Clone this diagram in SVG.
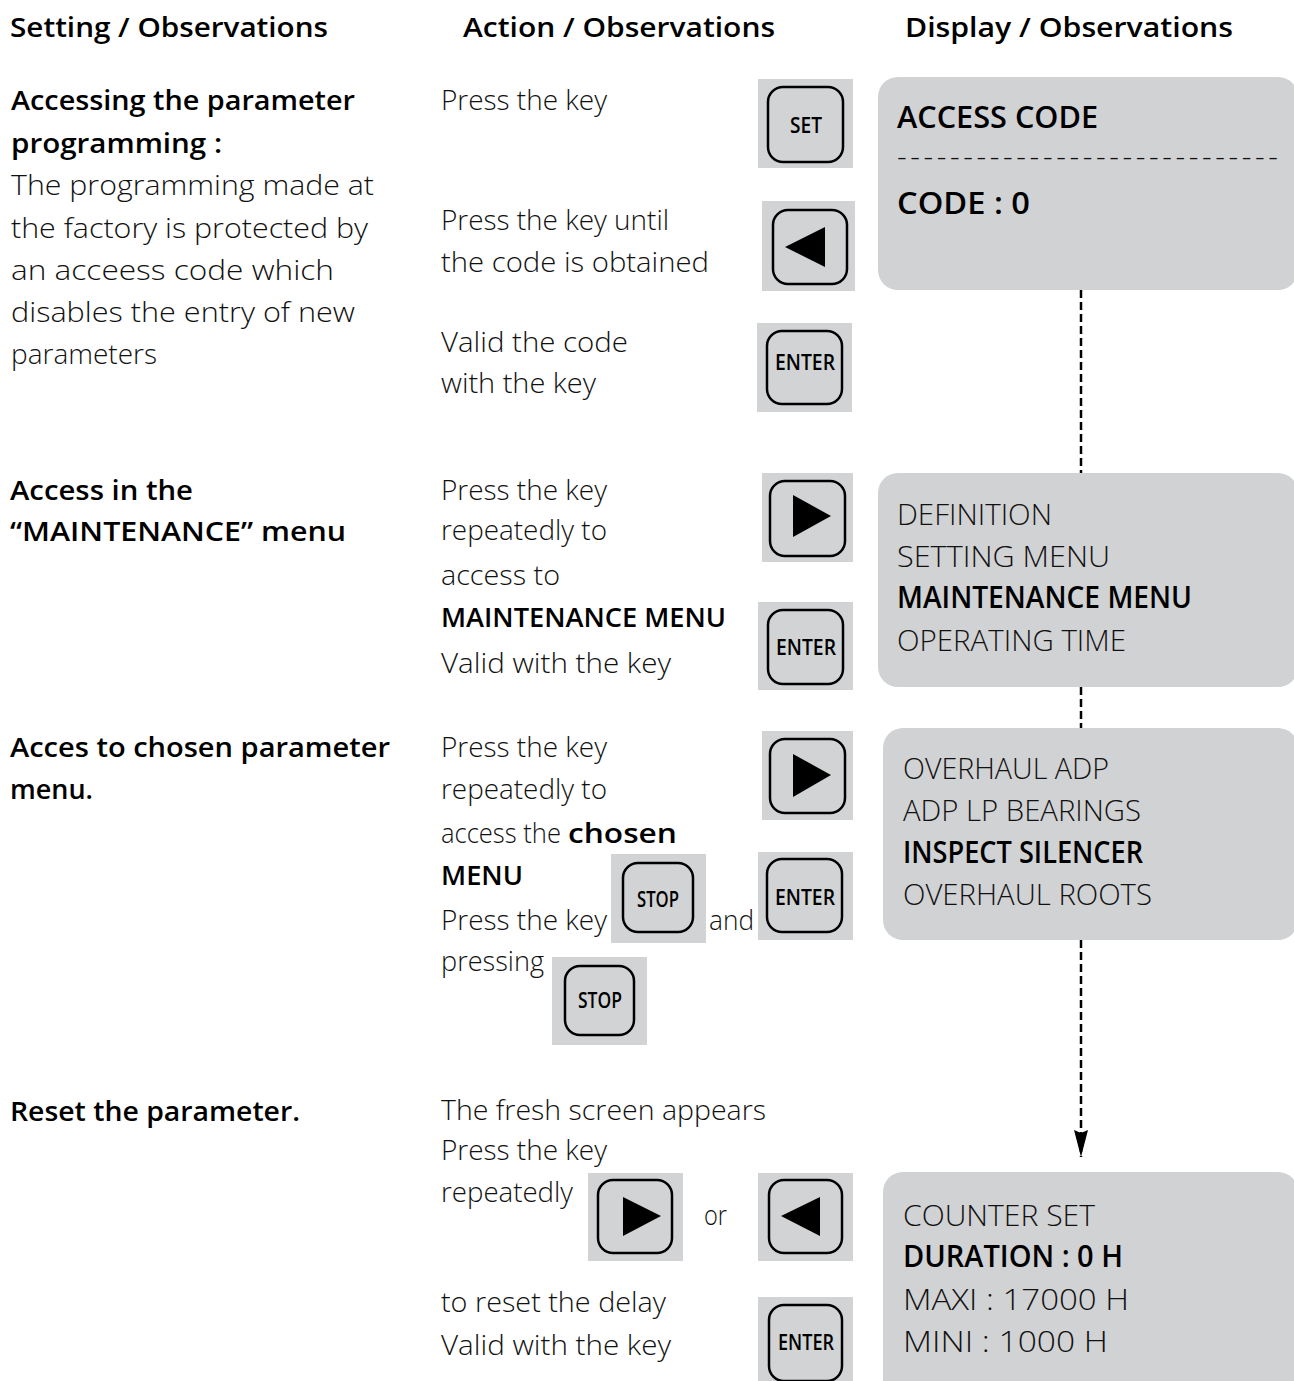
<svg xmlns="http://www.w3.org/2000/svg" width="1294" height="1381" viewBox="0 0 1294 1381">
<style>
.lt{font-family:"Open Sans","Liberation Sans",sans-serif;font-weight:300;font-size:28px;fill:#111}
.bd{font-family:"Open Sans","Liberation Sans",sans-serif;font-weight:600;font-size:27px;fill:#000}
.dl{font-family:"Open Sans","Liberation Sans",sans-serif;font-weight:300;font-size:30px;fill:#111}
.db{font-family:"Open Sans","Liberation Sans",sans-serif;font-weight:600;font-size:30px;fill:#000}
.kbg{fill:#d1d3d4}
.kin{fill:none;stroke:#000;stroke-width:2.5}
.klab{font-family:"Open Sans","Liberation Sans",sans-serif;font-weight:600;font-size:21px;fill:#000;text-anchor:middle}
.disp{fill:#d1d2d4}
.conn{fill:none;stroke:#000;stroke-width:2.5;stroke-dasharray:8,4}
</style>
<defs>
<marker id="ah" markerUnits="userSpaceOnUse" markerWidth="28" markerHeight="16" refX="27" refY="8" orient="auto" viewBox="0 0 28 16">
<path d="M0,1 L3,8 L0,15 L27,8 Z" fill="#000"/>
</marker>
</defs>
<rect width="1294" height="1381" fill="#fff"/>

<g id="headers">
<text class="bd" x="10" y="37" textLength="318" lengthAdjust="spacingAndGlyphs">Setting / Observations</text>
<text class="bd" x="463" y="37" textLength="312" lengthAdjust="spacingAndGlyphs">Action / Observations</text>
<text class="bd" x="905" y="37" textLength="328" lengthAdjust="spacingAndGlyphs">Display / Observations</text>
</g>

<g id="connectors">
<path class="conn" d="M1081,290 V473 M1081,687 V728 M1081,940 V1157" marker-end="url(#ah)"/>
</g>

<g id="step1-setting">
<text class="bd" x="11" y="110" textLength="344" lengthAdjust="spacingAndGlyphs">Accessing the parameter</text>
<text class="bd" x="11" y="153" textLength="211" lengthAdjust="spacingAndGlyphs">programming :</text>
<text class="lt" x="11" y="195" textLength="363" lengthAdjust="spacingAndGlyphs">The programming made at</text>
<text class="lt" x="11" y="238" textLength="357" lengthAdjust="spacingAndGlyphs">the factory is protected by</text>
<text class="lt" x="11" y="280" textLength="323" lengthAdjust="spacingAndGlyphs">an acceess code which</text>
<text class="lt" x="11" y="322" textLength="344" lengthAdjust="spacingAndGlyphs">disables the entry of new</text>
<text class="lt" x="11" y="364" textLength="146" lengthAdjust="spacingAndGlyphs">parameters</text>
</g>

<g id="step1-action">
<text class="lt" x="441" y="110" textLength="166" lengthAdjust="spacingAndGlyphs">Press the key</text>
<text class="lt" x="441" y="230" textLength="228" lengthAdjust="spacingAndGlyphs">Press the key until</text>
<text class="lt" x="441" y="272" textLength="268" lengthAdjust="spacingAndGlyphs">the code is obtained</text>
<text class="lt" x="441" y="352" textLength="187" lengthAdjust="spacingAndGlyphs">Valid the code</text>
<text class="lt" x="441" y="393" textLength="155" lengthAdjust="spacingAndGlyphs">with the key</text>
</g>

<g id="key-set">
<rect class="kbg" x="758" y="79" width="95" height="89"/>
<rect class="kin" x="768" y="87" width="75" height="75" rx="15"/>
<text class="klab" x="806" y="133" textLength="32" lengthAdjust="spacingAndGlyphs">SET</text>
</g>
<g id="key-left-1">
<rect class="kbg" x="762" y="201" width="93" height="90"/>
<rect class="kin" x="773" y="210" width="74" height="74" rx="15"/>
<polygon points="785,247 825,227 825,267" fill="#000"/>
</g>
<g id="key-enter-1">
<rect class="kbg" x="757" y="323" width="95" height="89"/>
<rect class="kin" x="767" y="331" width="75" height="73" rx="15"/>
<text class="klab" x="805" y="370" textLength="60" lengthAdjust="spacingAndGlyphs">ENTER</text>
</g>

<g id="display-access-code">
<rect class="disp" x="878" y="77" width="420" height="213" rx="20"/>
<text class="db" x="897" y="128" textLength="201" lengthAdjust="spacingAndGlyphs">ACCESS CODE</text>
<text class="dl" x="897" y="167" textLength="381" lengthAdjust="spacing">-----------------------------</text>
<text class="db" x="897" y="214" textLength="133" lengthAdjust="spacingAndGlyphs">CODE : 0</text>
</g>

<g id="step2-setting">
<text class="bd" x="10" y="500" textLength="183" lengthAdjust="spacingAndGlyphs">Access in the</text>
<text class="bd" x="10" y="541" textLength="336" lengthAdjust="spacingAndGlyphs">“MAINTENANCE” menu</text>
</g>

<g id="step2-action">
<text class="lt" x="441" y="500" textLength="166" lengthAdjust="spacingAndGlyphs">Press the key</text>
<text class="lt" x="441" y="540" textLength="166" lengthAdjust="spacingAndGlyphs">repeatedly to</text>
<text class="lt" x="441" y="585" textLength="119" lengthAdjust="spacingAndGlyphs">access to</text>
<text class="bd" x="441" y="627" textLength="285" lengthAdjust="spacingAndGlyphs">MAINTENANCE MENU</text>
<text class="lt" x="441" y="673" textLength="230" lengthAdjust="spacingAndGlyphs">Valid with the key</text>
</g>

<g id="key-right-2">
<rect class="kbg" x="762" y="473" width="91" height="89"/>
<rect class="kin" x="770" y="481" width="75" height="75" rx="15"/>
<polygon points="793,495 793,537 831,516" fill="#000"/>
</g>
<g id="key-enter-2">
<rect class="kbg" x="758" y="602" width="95" height="88"/>
<rect class="kin" x="768" y="610" width="75" height="74" rx="15"/>
<text class="klab" x="806" y="655" textLength="60" lengthAdjust="spacingAndGlyphs">ENTER</text>
</g>

<g id="display-main-menu">
<rect class="disp" x="878" y="473" width="420" height="214" rx="20"/>
<text class="dl" x="897" y="525" textLength="155" lengthAdjust="spacingAndGlyphs">DEFINITION</text>
<text class="dl" x="897" y="567" textLength="213" lengthAdjust="spacingAndGlyphs">SETTING MENU</text>
<text class="db" x="897" y="608" textLength="295" lengthAdjust="spacingAndGlyphs">MAINTENANCE MENU</text>
<text class="dl" x="897" y="651" textLength="229" lengthAdjust="spacingAndGlyphs">OPERATING TIME</text>
</g>

<g id="step3-setting">
<text class="bd" x="10" y="757" textLength="380" lengthAdjust="spacingAndGlyphs">Acces to chosen parameter</text>
<text class="bd" x="10" y="799" textLength="83" lengthAdjust="spacingAndGlyphs">menu.</text>
</g>

<g id="step3-action">
<text class="lt" x="441" y="757" textLength="166" lengthAdjust="spacingAndGlyphs">Press the key</text>
<text class="lt" x="441" y="799" textLength="166" lengthAdjust="spacingAndGlyphs">repeatedly to</text>
<text class="lt" x="441" y="843" textLength="120" lengthAdjust="spacingAndGlyphs">access the</text>
<text class="bd" x="568" y="843" textLength="109" lengthAdjust="spacingAndGlyphs">chosen</text>
<text class="bd" x="441" y="885" textLength="82" lengthAdjust="spacingAndGlyphs">MENU</text>
<text class="lt" x="441" y="930" textLength="166" lengthAdjust="spacingAndGlyphs">Press the key</text>
<text class="lt" x="709" y="930" textLength="45" lengthAdjust="spacingAndGlyphs">and</text>
<text class="lt" x="441" y="971" textLength="103" lengthAdjust="spacingAndGlyphs">pressing</text>
</g>

<g id="key-right-3">
<rect class="kbg" x="762" y="731" width="91" height="89"/>
<rect class="kin" x="770" y="739" width="75" height="74" rx="15"/>
<polygon points="793,754 793,797 831,775" fill="#000"/>
</g>
<g id="key-enter-3">
<rect class="kbg" x="758" y="852" width="95" height="88"/>
<rect class="kin" x="767" y="859" width="75" height="73" rx="15"/>
<text class="klab" x="805" y="905" textLength="60" lengthAdjust="spacingAndGlyphs">ENTER</text>
</g>
<g id="key-stop-1">
<rect class="kbg" x="611" y="854" width="95" height="89"/>
<rect class="kin" x="623" y="863" width="70" height="69" rx="15"/>
<text class="klab" x="658" y="907" textLength="42" lengthAdjust="spacingAndGlyphs">STOP</text>
</g>
<g id="key-stop-2">
<rect class="kbg" x="552" y="957" width="95" height="88"/>
<rect class="kin" x="565" y="966" width="69" height="69" rx="15"/>
<text class="klab" x="600" y="1008" textLength="44" lengthAdjust="spacingAndGlyphs">STOP</text>
</g>

<g id="display-parameter-menu">
<rect class="disp" x="883" y="728" width="415" height="212" rx="20"/>
<text class="dl" x="903" y="779" textLength="206" lengthAdjust="spacingAndGlyphs">OVERHAUL ADP</text>
<text class="dl" x="903" y="821" textLength="238" lengthAdjust="spacingAndGlyphs">ADP LP BEARINGS</text>
<text class="db" x="903" y="863" textLength="240" lengthAdjust="spacingAndGlyphs">INSPECT SILENCER</text>
<text class="dl" x="903" y="905" textLength="249" lengthAdjust="spacingAndGlyphs">OVERHAUL ROOTS</text>
</g>

<g id="step4-setting">
<text class="bd" x="10" y="1121" textLength="290" lengthAdjust="spacingAndGlyphs">Reset the parameter.</text>
</g>

<g id="step4-action">
<text class="lt" x="441" y="1120" textLength="325" lengthAdjust="spacingAndGlyphs">The fresh screen appears</text>
<text class="lt" x="441" y="1160" textLength="166" lengthAdjust="spacingAndGlyphs">Press the key</text>
<text class="lt" x="441" y="1202" textLength="132" lengthAdjust="spacingAndGlyphs">repeatedly</text>
<text class="lt" x="704" y="1225" textLength="23" lengthAdjust="spacingAndGlyphs">or</text>
<text class="lt" x="441" y="1312" textLength="225" lengthAdjust="spacingAndGlyphs">to reset the delay</text>
<text class="lt" x="441" y="1355" textLength="230" lengthAdjust="spacingAndGlyphs">Valid with the key</text>
</g>

<g id="key-right-4">
<rect class="kbg" x="588" y="1173" width="95" height="88"/>
<rect class="kin" x="598" y="1180" width="74" height="73" rx="15"/>
<polygon points="623,1197 623,1236 661,1216" fill="#000"/>
</g>
<g id="key-left-4">
<rect class="kbg" x="758" y="1173" width="95" height="88"/>
<rect class="kin" x="769" y="1180" width="73" height="73" rx="15"/>
<polygon points="781,1216 820,1197 820,1236" fill="#000"/>
</g>
<g id="key-enter-4">
<rect class="kbg" x="758" y="1297" width="95" height="90"/>
<rect class="kin" x="769" y="1305" width="73" height="76" rx="15"/>
<text class="klab" x="806" y="1350" textLength="56" lengthAdjust="spacingAndGlyphs">ENTER</text>
</g>

<g id="display-counter-set">
<rect class="disp" x="883" y="1172" width="415" height="230" rx="20"/>
<text class="dl" x="903" y="1226" textLength="192" lengthAdjust="spacingAndGlyphs">COUNTER SET</text>
<text class="db" x="903" y="1267" textLength="220" lengthAdjust="spacingAndGlyphs">DURATION : 0 H</text>
<text class="dl" x="903" y="1310" textLength="226" lengthAdjust="spacingAndGlyphs">MAXI : 17000 H</text>
<text class="dl" x="903" y="1352" textLength="205" lengthAdjust="spacingAndGlyphs">MINI : 1000 H</text>
</g>
</svg>
